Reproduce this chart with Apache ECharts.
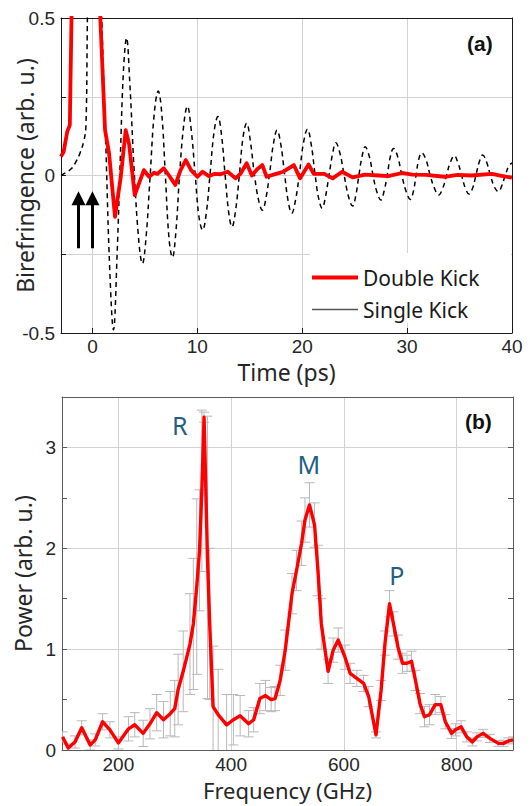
<!DOCTYPE html>
<html><head><meta charset="utf-8">
<script src="https://cdn.jsdelivr.net/npm/echarts@6/dist/echarts.min.js"></script>
<style>html,body{margin:0;padding:0;background:#fff}#c{width:530px;height:806px}</style>
</head><body><div id="c"></div>
<script>
// ---------- Panel (a): birefringence vs time ----------
const timeSingle = [-3,-2.5,-2,-1.6,-1.2,-0.8,-0.62,-0.5,-0.3,0.3,0.85,1.27,1.65,2.0,2.35,2.65,2.95,3.25,3.55,4.0,4.45,4.76,5.1,5.5,5.9,6.27,6.6,6.95,7.3,7.62,7.95,8.3,8.7,9.05,9.4,9.8,10.15,10.5,10.85,11.2,11.6,11.96,12.3,12.65,13.0,13.3,13.65,14.0,14.35,14.7,15.05,15.45,15.85,16.2,16.55,16.9,17.25,17.6,17.95,18.3,18.65,19.0,19.35,19.75,20.1,20.5,20.85,21.2,21.55,21.9,22.2,22.55,22.9,23.2,23.6,24.0,24.4,24.8,25.1,25.4,25.7,26.0,26.4,26.75,27.1,27.5,27.8,28.1,28.4,28.7,29.1,29.5,29.9,30.3,30.6,30.85,31.1,31.4,31.8,32.2,32.6,33.0,33.4,33.75,34.1,34.5,34.85,35.2,35.55,35.9,36.25,36.55,36.9,37.2,37.55,37.95,38.3,38.7,39.0,39.35,39.7,40.0];
const singleKick = [0.0,0.01,0.022,0.042,0.07,0.113,0.16,0.45,1.1,1.4,0.55,0.1,-0.3,-0.49,-0.25,0.05,0.33,0.437,0.3,0.0,-0.22,-0.28,-0.2,0.0,0.2,0.268,0.2,0.0,-0.2,-0.26,-0.18,0.0,0.16,0.22,0.15,0.0,-0.13,-0.173,-0.12,0.0,0.14,0.187,0.13,0.0,-0.12,-0.163,-0.11,0.0,0.12,0.166,0.11,0.0,-0.08,-0.11,-0.07,0.01,0.1,0.144,0.1,0.01,-0.08,-0.12,-0.08,0.01,0.1,0.147,0.1,0.01,-0.07,-0.104,-0.07,0.0,0.07,0.104,0.07,0.0,-0.065,-0.097,-0.065,0.0,0.06,0.091,0.06,0.0,-0.05,-0.078,-0.05,0.0,0.06,0.086,0.06,0.0,-0.05,-0.076,-0.05,0.0,0.05,0.072,0.05,0.0,-0.04,-0.062,-0.04,0.0,0.04,0.063,0.04,0.0,-0.04,-0.059,-0.04,0.0,0.045,0.065,0.045,0.0,-0.035,-0.051,-0.035,0.0,0.03,0.04];
const timeDouble = [-3,-2.75,-2.4,-2.16,-1.95,-1.5,0.3,0.75,1.2,1.58,2.15,2.7,3.17,3.49,4.03,4.44,4.9,5.4,5.87,6.2,6.8,7.3,7.9,8.4,8.9,9.4,10.0,10.5,11.1,11.6,12.2,12.9,13.65,14.1,14.7,15.2,15.7,16.2,16.6,17.5,18.2,19.2,19.8,20.6,21.1,22.1,22.9,23.8,24.8,26.0,27.3,28.2,29.5,30.5,31.8,33.6,34.8,36.1,38.1,39.0,40.0];
const doubleKick = [0.06,0.075,0.14,0.16,0.6,2.0,2.0,0.5,0.144,0.071,-0.131,-0.004,0.144,0.10,-0.062,-0.025,0.017,-0.004,0.009,0.005,0.023,0.0,-0.03,0.017,0.049,0.017,-0.004,0.012,-0.002,0.005,0.004,0.012,-0.009,0.005,0.039,0.0,0.02,0.033,-0.004,0.005,0.012,0.033,-0.009,0.035,0.005,0.005,-0.009,0.012,-0.006,0.003,0.0,-0.002,0.008,0.003,0.002,-0.004,0.002,0.0,0.005,-0.001,-0.007];
const kickTimes = [-1.33, 0];
const legendNames = ['Double Kick', 'Single Kick'];

// ---------- Panel (b): power spectrum ----------
const freqGHz = [101,111,123,135,150,159,172,185,200,218,229,244,256,268,280,292,300,306,315,327,333,339,344,348,352,358,362,368,377,392,404,416,431,440,451,461,471,478,487,496,508,516,525,531,539,548,554,560,572,581,590,602,611,623,635,644,657,666,673,681,688,696,704,712,720,727,735,743,752,762,772,780,791,798,808,818,828,836,847,859,874,883,892,900];
const powerVals = [0.13,0.02,0.08,0.22,0.05,0.10,0.28,0.20,0.07,0.21,0.25,0.165,0.26,0.37,0.30,0.36,0.41,0.60,0.78,1.05,1.25,1.62,1.98,2.57,3.30,1.91,1.25,0.43,0.35,0.25,0.30,0.34,0.26,0.30,0.51,0.54,0.50,0.51,0.69,0.99,1.55,1.78,2.05,2.28,2.43,2.23,1.78,1.25,0.78,0.99,1.09,0.92,0.76,0.71,0.66,0.53,0.15,0.59,1.06,1.45,1.25,1.02,0.86,0.86,0.88,0.69,0.46,0.33,0.35,0.45,0.45,0.28,0.165,0.20,0.23,0.13,0.08,0.13,0.165,0.115,0.066,0.066,0.09,0.10];
const powerErr = [0.05,0.04,0.06,0.07,0.05,0.06,0.08,0.08,0.06,0.12,0.12,0.13,0.15,0.18,0.18,0.22,0.28,0.35,0.40,0.50,0.65,0.87,0.60,0.80,0.05,1.40,0.75,0.60,0.45,0.30,0.25,0.20,0.13,0.12,0.15,0.15,0.12,0.12,0.15,0.20,0.20,0.20,0.22,0.22,0.22,0.22,0.25,0.25,0.12,0.12,0.12,0.12,0.10,0.08,0.08,0.10,0.03,0.10,0.12,0.13,0.12,0.12,0.10,0.08,0.10,0.10,0.10,0.10,0.10,0.10,0.08,0.07,0.05,0.06,0.06,0.05,0.04,0.04,0.04,0.04,0.03,0.03,0.03,0.03];
const peakNames = ['R', 'M', 'P'];
const peakNameFreq = [309, 538, 694];
const peakNamePower = [3.22, 2.84, 1.74];

const tickFont = 'Liberation Sans, Arial, sans-serif';
const titleFont = 'Noto Sans, Open Sans, sans-serif';
const txt = '#262626';
const gridColor = '#d2d2d2';

const chart = echarts.init(document.getElementById('c'), null, {renderer: 'svg'});

const frameAxis = (pos, grid, min, max, color, extra) => Object.assign({
  type: 'value', gridIndex: grid, position: pos, min: min, max: max,
  axisLine: {show: true, onZero: false, lineStyle: {color: color, width: 1}},
  axisTick: {show: false}, axisLabel: {show: false}, splitLine: {show: false}
}, extra || {});

const nameStyle = {fontFamily: titleFont, fontSize: 23, lineHeight: 23, color: txt};
const labelStyle = {fontFamily: tickFont, fontSize: 19, lineHeight: 19, color: txt};

const option = {
  animation: false,
  backgroundColor: '#fff',
  grid: [
    {left: 61, top: 18, width: 451, height: 315, containLabel: false, outerBoundsMode: 'none'},
    {left: 62, top: 397, width: 451, height: 353, containLabel: false, outerBoundsMode: 'none'}
  ],
  xAxis: [
    {type: 'value', gridIndex: 0, min: -3, max: 40,
     name: 'Time (ps)', nameLocation: 'middle', nameGap: 27, nameMoveOverlap: false,
     nameTextStyle: nameStyle,
     axisLine: {onZero: false, lineStyle: {color: '#1a1a1a'}},
     axisTick: {inside: true, length: 5, lineStyle: {color: '#1a1a1a'}},
     axisLabel: Object.assign({margin: 4, formatter: v => (v % 10 === 0 ? String(v) : '')}, labelStyle),
     splitLine: {show: true, lineStyle: {color: gridColor}}},
    frameAxis('top', 0, -3, 40, '#1a1a1a'),
    {type: 'value', gridIndex: 1, min: 100, max: 900,
     name: 'Frequency (GHz)', nameLocation: 'middle', nameGap: 29, nameMoveOverlap: false,
     nameTextStyle: {fontFamily: titleFont, fontSize: 22, lineHeight: 22, color: txt},
     axisLine: {onZero: false, lineStyle: {color: '#5a5a5a'}},
     axisTick: {show: false},
     axisLabel: Object.assign({margin: 5, formatter: v => (v % 200 === 0 ? String(v) : '')}, labelStyle),
     splitLine: {show: true, lineStyle: {color: gridColor}}},
    frameAxis('top', 1, 100, 900, '#5a5a5a')
  ],
  yAxis: [
    {type: 'value', gridIndex: 0, min: -0.5, max: 0.5, interval: 0.25,
     name: 'Birefringence (arb. u.)', nameLocation: 'middle', nameGap: 25, nameMoveOverlap: false,
     nameTextStyle: nameStyle,
     axisLine: {show: true, onZero: false, lineStyle: {color: '#1a1a1a'}},
     axisTick: {show: true, inside: true, length: 5, lineStyle: {color: '#1a1a1a'}},
     axisLabel: Object.assign({margin: 6, formatter: v => (Math.abs(v * 2 - Math.round(v * 2)) < 1e-9 ? String(v) : '')}, labelStyle),
     splitLine: {show: true, lineStyle: {color: gridColor}}},
    frameAxis('right', 0, -0.5, 0.5, '#1a1a1a'),
    {type: 'value', gridIndex: 1, min: 0, max: 3.5, interval: 0.5,
     name: 'Power (arb. u.)', nameLocation: 'middle', nameGap: 28, nameMoveOverlap: false,
     nameTextStyle: nameStyle,
     axisLine: {show: true, onZero: false, lineStyle: {color: '#5a5a5a'}},
     axisTick: {show: true, inside: true, length: 5, lineStyle: {color: '#5a5a5a'}},
     axisLabel: Object.assign({margin: 6, formatter: v => (Number.isInteger(v) ? String(v) : '')}, labelStyle),
     splitLine: {show: false}},
    frameAxis('right', 1, 0, 3.5, '#5a5a5a', {interval: 0.5,
      axisTick: {show: true, inside: true, length: 5, lineStyle: {color: '#5a5a5a'}}}),
    {type: 'value', gridIndex: 1, min: 0, max: 3.5, interval: 1, position: 'left',
     axisLine: {show: false}, axisTick: {show: false}, axisLabel: {show: false},
     splitLine: {show: true, lineStyle: {color: gridColor}}}
  ],
  legend: [
    {data: [{name: legendNames[0], itemStyle: {color: '#ff0000'}}], left: 312, top: 267,
     icon: 'rect', itemWidth: 46, itemHeight: 4, padding: 0, z: 6,
     textStyle: {fontFamily: titleFont, fontSize: 21, color: '#1a1a1a'}},
    {data: [{name: legendNames[1], itemStyle: {color: '#555555'}}], left: 312, top: 299,
     icon: 'rect', itemWidth: 46, itemHeight: 1.5, padding: 0, z: 6,
     textStyle: {fontFamily: titleFont, fontSize: 21, color: '#1a1a1a'}}
  ],
  graphic: [
    {type: 'rect', z: 5, shape: {x: 310, y: 253, width: 201, height: 70}, style: {fill: '#ffffff'}},
    {type: 'text', z: 6, left: 467, top: 33, style: {text: '(a)', font: 'bold 21px Liberation Sans, Arial', fill: '#111'}},
    {type: 'text', z: 6, left: 465, top: 411, style: {text: '(b)', font: 'bold 21px Liberation Sans, Arial', fill: '#111'}}
  ],
  series: [
    {name: legendNames[1], type: 'line', xAxisIndex: 0, yAxisIndex: 0,
     data: timeSingle.map((t, i) => [t, singleKick[i]]),
     showSymbol: false, smooth: 0.4, clip: true, z: 2,
     itemStyle: {color: '#000'},
     lineStyle: {color: '#000', width: 1.5, type: [5, 4]},
     markLine: {silent: true, symbol: ['none', 'triangle'], symbolSize: 14,
       label: {show: false}, lineStyle: {color: '#000', width: 3, type: 'solid'},
       data: kickTimes.map(t => [{coord: [t, -0.231]}, {coord: [t, -0.072]}])}},
    {name: legendNames[0], type: 'line', xAxisIndex: 0, yAxisIndex: 0,
     data: timeDouble.map((t, i) => [t, doubleKick[i]]),
     showSymbol: false, clip: true, z: 3,
     itemStyle: {color: '#ff0000'},
     lineStyle: {color: '#ff0000', width: 3.8, join: 'round'}},
    {name: 'err', type: 'custom', xAxisIndex: 2, yAxisIndex: 2, clip: true, z: 2,
     data: freqGHz.map((f, i) => [f, powerVals[i] - powerErr[i], powerVals[i] + powerErr[i]]),
     encode: {x: 0, y: [1, 2]},
     renderItem: (params, api) => {
       const cs = params.coordSys;
       const bottom = cs.y + cs.height;
       const f = api.value(0);
       const lo = api.coord([f, api.value(1)]);
       const hi = api.coord([f, api.value(2)]);
       const st = {stroke: '#b8b8b8', lineWidth: 1};
       const hw = 5;
       const children = [];
       const loY = Math.min(lo[1], bottom);
       children.push({type: 'line', shape: {x1: hi[0], y1: hi[1], x2: hi[0], y2: loY}, style: st});
       children.push({type: 'line', shape: {x1: hi[0] - hw, y1: hi[1], x2: hi[0] + hw, y2: hi[1]}, style: st});
       if (lo[1] <= bottom) children.push({type: 'line', shape: {x1: lo[0] - hw, y1: lo[1], x2: lo[0] + hw, y2: lo[1]}, style: st});
       return {type: 'group', children: children};
     }},
    {name: 'power', type: 'line', xAxisIndex: 2, yAxisIndex: 2,
     data: freqGHz.map((f, i) => [f, powerVals[i]]),
     showSymbol: false, clip: true, z: 3,
     lineStyle: {color: '#ff0000', width: 3.4, join: 'round'},
     itemStyle: {color: '#ff0000'},
     markPoint: {silent: true, symbol: 'circle', symbolSize: 0,
       label: {show: true, position: 'inside', fontFamily: titleFont, fontSize: 25, color: '#1f6083',
               formatter: p => p.name},
       data: peakNames.map((n, i) => ({name: n, coord: [peakNameFreq[i], peakNamePower[i]]}))}}
  ]
};
chart.setOption(option);
</script></body></html>
